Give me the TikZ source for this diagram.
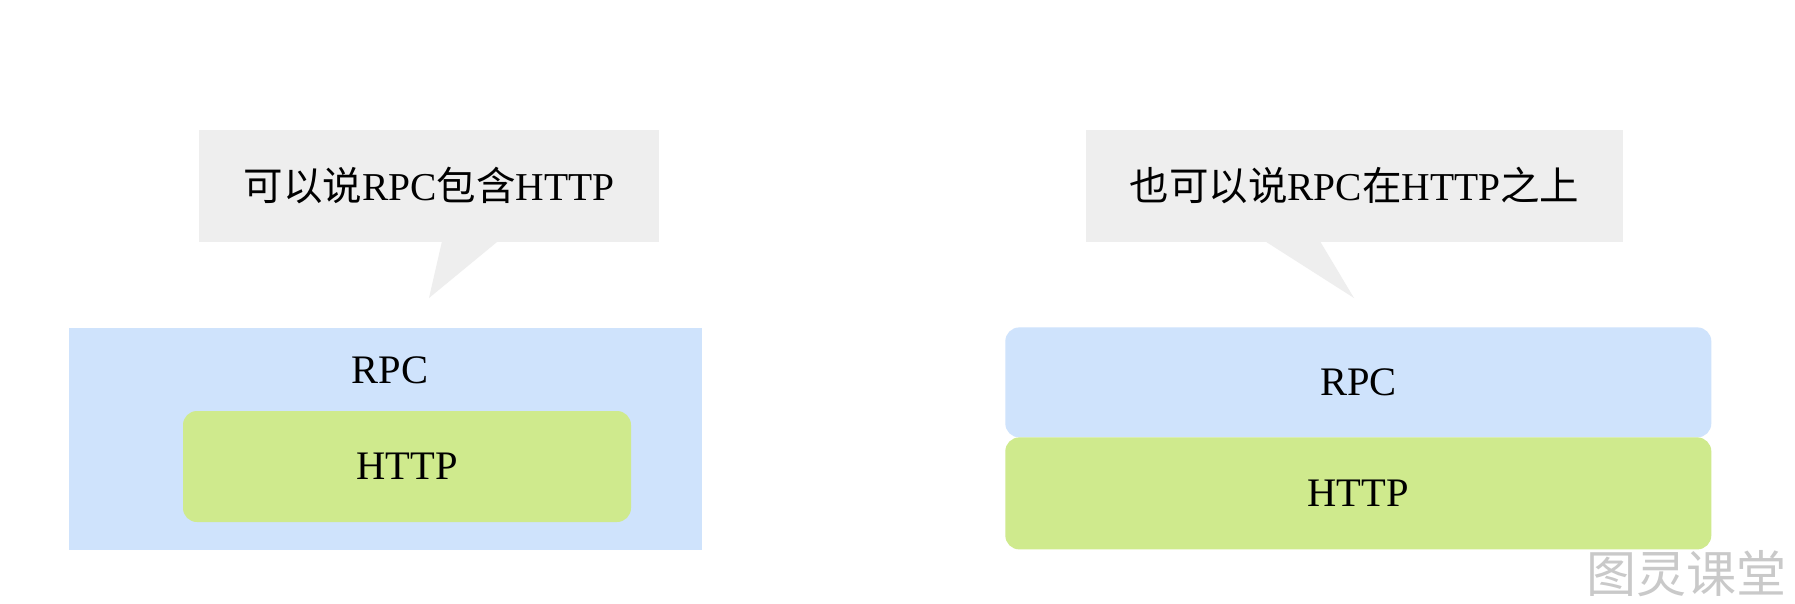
\documentclass[tikz,border=0pt]{standalone}
\usepackage{fontspec}
\setmainfont{Liberation Serif}
\newfontfamily\cjk{Noto Sans CJK SC}
\usetikzlibrary{calc}
\definecolor{bubblegray}{RGB}{238,238,238}
\definecolor{rpcblue}{RGB}{207,227,252}
\definecolor{httpgreen}{RGB}{207,234,141}
\begin{document}
\begin{tikzpicture}[x=1pt,y=-1pt,
  bubble/.style={fill=bubblegray, inner sep=0pt, font=\fontsize{39.5}{42}\selectfont},
  layerbox/.style={inner sep=0pt, font=\fontsize{40.5}{43}\selectfont},
  lbl/.style={inner sep=0pt, font=\fontsize{40.5}{43}\selectfont}]
\useasboundingbox[fill=white] (0,0) rectangle (1795,604);
% left bubble
\node[bubble, minimum width=460, minimum height=112] (lb) at (429,186)
  {{\cjk 可以说}RPC{\cjk 包含}HTTP};
\coordinate (ltip) at (429,298);
\fill[bubblegray] ([xshift=13pt,yshift=1pt]lb.south) -- (ltip) -- ([xshift=69pt,yshift=1pt]lb.south) -- cycle;
% right bubble
\node[bubble, minimum width=537, minimum height=112] (rb) at (1354.5,186)
  {{\cjk 也可以说}RPC{\cjk 在}HTTP{\cjk 之上}};
\coordinate (rtip) at (1354,298);
\fill[bubblegray] ([xshift=-89.5pt,yshift=1pt]rb.south) -- (rtip) -- ([xshift=-34.5pt,yshift=1pt]rb.south) -- cycle;
% left stack
\node[layerbox, fill=rpcblue, minimum width=633, minimum height=222] (lrpc) at (385.2,438.5) {};
\node[lbl] (lrpclabel) at (390,370.5) {RPC};
\node[layerbox, fill=httpgreen, rounded corners=14pt, minimum width=448, minimum height=111] (lhttp) at (407,466.5) {HTTP};
% right stack
\node[layerbox, fill=rpcblue, rounded corners=14pt, minimum width=706, minimum height=110] (rrpc) at (1358.3,382.4) {RPC};
\node[layerbox, fill=httpgreen, rounded corners=14pt, minimum width=706, minimum height=112] (rhttp) at (1358.3,493.4) {HTTP};
% watermark
\node[inner sep=0pt, text=gray!42, font=\cjk\fontsize{50}{52}\selectfont] (wm) at (1686,574) {图灵课堂};
\end{tikzpicture}
\end{document}
